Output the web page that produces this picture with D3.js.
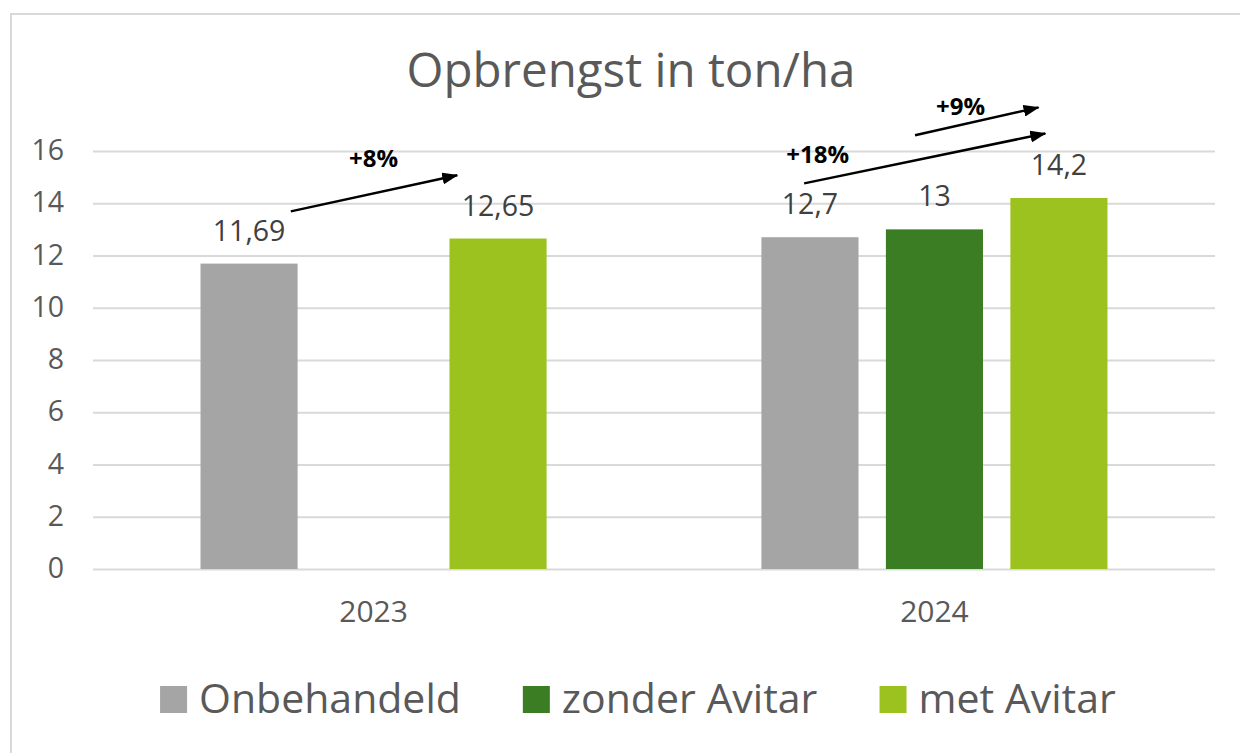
<!DOCTYPE html>
<html>
<head>
<meta charset="utf-8">
<script src="https://cdn.jsdelivr.net/npm/d3@7"></script>
<style>
  html, body { margin: 0; padding: 0; background: #fff; }
  svg { display: block; font-family: "Open Sans", sans-serif; }
</style>
</head>
<body>
<svg id="chart" width="1240" height="753"></svg>
<script>
// Data
var years = ["2023", "2024"];
var seriesNames = ["Onbehandeld", "zonder Avitar", "met Avitar"];
var seriesColors = ["#a5a5a5", "#3a7d22", "#9bc21f"];
var values2023 = [11.69, null, 12.65];
var values2024 = [12.7, 13, 14.2];
var valueLabels2023 = ["11,69", null, "12,65"];
var valueLabels2024 = ["12,7", "13", "14,2"];
var yTicks = [0, 2, 4, 6, 8, 10, 12, 14, 16];

// Annotation arrows: [year, series, position within bar, value]
var arrowFrom = [["2023", "Onbehandeld", 0.93, 13.69], ["2024", "Onbehandeld", 0.44, 14.76], ["2024", "zonder Avitar", 0.30, 16.6]];
var arrowTo = [["2023", "met Avitar", 0.08, 15.07], ["2024", "met Avitar", 0.36, 16.67], ["2024", "met Avitar", 0.29, 17.67]];
var arrowLabels = ["+8%", "+18%", "+9%"];
var arrowLabelAt = [["2023", "zonder Avitar", 0.5, 15.37], ["2024", "Onbehandeld", 0.58, 15.54], ["2024", "zonder Avitar", 0.77, 17.38]];

var table = [values2023, values2024];
var labelTable = [valueLabels2023, valueLabels2024];

var width = 1240, height = 753;
var plot = { left: 93, right: 1215, top: 151, bottom: 569 };
var textGray = "#595959";

var svg = d3.select("#chart");

// Outer frame (runs past right and bottom edge like the source image)
svg.append("rect")
  .attr("x", 11).attr("y", 14)
  .attr("width", width + 20).attr("height", height + 20)
  .attr("fill", "#fff")
  .attr("stroke", "#d9d9d9")
  .attr("stroke-width", 2);

// Scales
var x0 = d3.scaleBand()
  .domain(years)
  .range([plot.left, plot.right])
  .paddingInner(0.383)
  .paddingOuter(0.1917);

var x1 = d3.scaleBand()
  .domain(seriesNames)
  .range([0, x0.bandwidth()])
  .paddingInner(0.22)
  .paddingOuter(0);

var y = d3.scaleLinear()
  .domain([0, 16])
  .range([plot.bottom, plot.top]);

var color = d3.scaleOrdinal().domain(seriesNames).range(seriesColors);

function px(p) { return x0(p[0]) + x1(p[1]) + x1.bandwidth() * p[2]; }
function py(p) { return y(p[3]); }

// Title
svg.append("text")
  .attr("x", 631).attr("y", 87)
  .attr("text-anchor", "middle")
  .attr("font-size", 47.5)
  .attr("fill", textGray)
  .text("Opbrengst in ton/ha");

// Gridlines + y axis
var yAxis = d3.axisLeft(y)
  .tickValues(yTicks)
  .tickSize(-(plot.right - plot.left))
  .tickPadding(29)
  .tickFormat(d3.format("d"));

var gy = svg.append("g")
  .attr("transform", "translate(" + plot.left + ",0)")
  .call(yAxis);
gy.select(".domain").remove();
gy.selectAll(".tick line").attr("stroke", "#d9d9d9").attr("stroke-width", 2);
gy.selectAll(".tick text")
  .attr("font-family", "Open Sans, sans-serif")
  .attr("font-size", 28.5)
  .attr("fill", textGray)
  .attr("dy", "0.3em");

// X axis labels
var xAxis = d3.axisBottom(x0).tickSize(0).tickPadding(32);
var gx = svg.append("g")
  .attr("transform", "translate(0," + plot.bottom + ")")
  .call(xAxis);
gx.select(".domain").remove();
gx.selectAll(".tick text")
  .attr("font-family", "Open Sans, sans-serif")
  .attr("font-size", 30)
  .attr("fill", textGray);

// Bars
var groups = svg.append("g").selectAll("g")
  .data(years)
  .join("g")
  .attr("transform", function(d) { return "translate(" + x0(d) + ",0)"; });

function rowData(d, i) {
  return seriesNames.map(function(s, j) { return { key: s, value: table[i][j], label: labelTable[i][j] }; })
    .filter(function(e) { return e.value != null; });
}

groups.selectAll("rect")
  .data(rowData)
  .join("rect")
  .attr("x", function(d) { return x1(d.key); })
  .attr("y", function(d) { return y(d.value); })
  .attr("width", x1.bandwidth())
  .attr("height", function(d) { return y(0) - y(d.value); })
  .attr("fill", function(d) { return color(d.key); });

groups.selectAll("text.value")
  .data(rowData)
  .join("text")
  .attr("class", "value")
  .attr("x", function(d) { return x1(d.key) + x1.bandwidth() / 2; })
  .attr("y", function(d) { return y(d.value) - 23; })
  .attr("text-anchor", "middle")
  .attr("font-size", 28.5)
  .attr("fill", "#404040")
  .text(function(d) { return d.label; });

// Arrow marker
svg.append("defs").append("marker")
  .attr("id", "arrowhead")
  .attr("markerUnits", "userSpaceOnUse")
  .attr("markerWidth", 16).attr("markerHeight", 12)
  .attr("refX", 15).attr("refY", 6)
  .attr("orient", "auto")
  .append("path")
  .attr("d", "M0,0 L16,6 L0,12 Z")
  .attr("fill", "#000");

// Annotation arrows
svg.append("g").selectAll("line")
  .data(d3.range(arrowFrom.length))
  .join("line")
  .attr("x1", function(i) { return px(arrowFrom[i]); })
  .attr("y1", function(i) { return py(arrowFrom[i]); })
  .attr("x2", function(i) { return px(arrowTo[i]); })
  .attr("y2", function(i) { return py(arrowTo[i]); })
  .attr("stroke", "#000")
  .attr("stroke-width", 2.5)
  .attr("marker-end", "url(#arrowhead)");

svg.append("g").selectAll("text")
  .data(d3.range(arrowLabels.length))
  .join("text")
  .attr("x", function(i) { return px(arrowLabelAt[i]); })
  .attr("y", function(i) { return py(arrowLabelAt[i]); })
  .attr("text-anchor", "middle")
  .attr("font-size", 24)
  .attr("font-weight", "bold")
  .attr("fill", "#000")
  .text(function(i) { return arrowLabels[i]; });

// Legend
var legend = svg.append("g");
var item = legend.selectAll("g")
  .data(seriesNames)
  .join("g");

item.append("rect")
  .attr("width", 27).attr("height", 27)
  .attr("y", -27)
  .attr("fill", function(d) { return color(d); });

item.append("text")
  .attr("x", 39)
  .attr("font-size", 41)
  .attr("fill", textGray)
  .text(function(d) { return d; });

var offset = 0;
item.each(function() {
  var w = this.getBBox().width;
  d3.select(this).attr("transform", "translate(" + offset + ",0)");
  offset += w + 62;
});
var legendW = offset - 62;
legend.attr("transform", "translate(" + (638 - legendW / 2) + ",713)");
</script>
</body>
</html>
